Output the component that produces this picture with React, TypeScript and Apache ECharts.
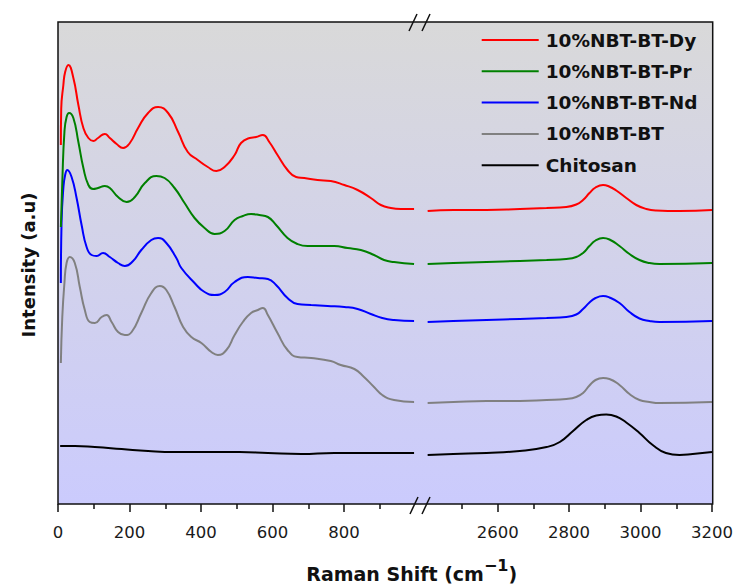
import React, { useEffect, useRef } from "react";
import * as echarts from "echarts";

// Raman shift (cm^-1), intensity (a.u.) — low range 0–1000 and high range 2370–3200
const dyLow: [number, number][] = [[8,359],[9,395],[15,419],[20,432],[29,439],[43,426],[57,399],[71,376],[85,366],[99,363],[112,366],[131,370],[145,366],[164,360],[182,356],[201,361],[224,376],[252,391],[280,397],[308,391],[336,372],[363,352],[391,344],[419,337],[443,333],[466,337],[494,349],[512,361],[536,366],[554,367],[573,369],[591,362],[614,349],[642,334],[666,327],[689,326],[726,324],[763,323],[801,319],[838,314],[875,306],[903,299],[931,296],[959,295],[996,295]];
const dyHigh: [number, number][] = [[2404,293],[2476,294],[2569,294],[2662,295],[2737,296],[2792,297],[2820,299.5],[2839,304],[2857,311],[2874,316.5],[2895,319],[2912,317.5],[2932,313.5],[2960,306],[2988,299],[3016,295],[3044,293.5],[3109,293],[3200,294]];

const prLow: [number, number][] = [[8,277],[12,322],[18,372],[24,387],[31,391],[43,386],[57,362],[71,336],[85,319],[98,315],[112,316],[131,318],[145,316],[168,307],[192,302],[215,307],[243,321],[275,328],[298,326],[326,316],[354,301],[382,286],[410,276],[438,270],[466,273],[494,284],[517,288],[540,290],[563,289],[587,287],[610,279],[642,266],[670,260],[698,258],[736,258],[773,258],[810,256],[847,254],[884,249],[912,244],[940,242],[996,240]];
const prHigh: [number, number][] = [[2404,240],[2476,241],[2569,242],[2662,243],[2737,244],[2792,245],[2820,247],[2839,251],[2857,258],[2874,263.5],[2895,266],[2913,264.5],[2941,258],[2969,250],[2997,244],[3025,241],[3053,240],[3200,241]];

const ndLow: [number, number][] = [[8,221],[10,282],[15,316],[20,329],[26,334],[38,327],[52,306],[66,279],[80,257],[94,249],[108,248],[126,251],[145,247],[168,241],[187,238],[210,243],[233,254],[261,264],[280,266],[303,261],[331,246],[345,236],[382,221],[410,212],[438,209],[466,212],[494,222],[531,227],[559,226],[587,225],[610,219],[642,206],[670,200],[708,199],[754,198],[801,197],[838,195],[875,190],[907,186],[940,184],[996,183]];
const ndHigh: [number, number][] = [[2404,182],[2476,183],[2569,184],[2662,185],[2737,186],[2792,187],[2820,189.5],[2839,195],[2857,201.5],[2874,206],[2895,208],[2913,206.5],[2941,201],[2969,192],[2997,185.5],[3025,183],[3053,182],[3200,183]];

const btLow: [number, number][] = [[8,141],[12,187],[18,221],[24,241],[33,247],[47,241],[61,217],[75,194],[89,182],[103,181],[122,187],[136,189],[150,182],[168,172],[187,169],[206,172],[233,191],[261,211],[285,218],[303,214],[326,197],[350,177],[373,167],[401,161],[429,152],[447,149],[471,154],[494,169],[517,182],[540,191],[559,194],[573,196],[587,189],[614,171],[642,154],[670,147],[708,146],[763,143],[791,139],[829,135],[856,127],[884,117],[907,109],[940,104],[996,102]];
const btHigh: [number, number][] = [[2404,101],[2476,102],[2569,103],[2662,103],[2737,104],[2792,105],[2820,107],[2839,111],[2857,118.5],[2874,124],[2895,126],[2913,125],[2941,119],[2969,110],[2997,104],[3025,102],[3053,101],[3200,102]];

const chLow: [number, number][] = [[6,58],[47,58],[103,57],[178,55],[252,53],[326,52],[410,52],[508,52],[587,51],[680,50],[773,51],[996,51]];
const chHigh: [number, number][] = [[2404,49],[2476,50],[2569,51],[2662,53],[2737,57],[2774,62],[2811,73],[2848,84],[2876,88.5],[2904,89.5],[2932,87.5],[2960,81.5],[2997,71],[3034,59],[3071,51],[3109,49],[3146,50],[3200,52]];

const seriesNames = ["10%NBT-BT-Dy", "10%NBT-BT-Pr", "10%NBT-BT-Nd", "10%NBT-BT", "Chitosan"];
const seriesColors = ["#ff0000", "#008000", "#0000ff", "#808080", "#000000"];
const lowData = [dyLow, prLow, ndLow, btLow, chLow];
const highData = [dyHigh, prHigh, ndHigh, btHigh, chHigh];

const lowMajorTicks = [0, 200, 400, 600, 800];
const lowMinorTicks = [100, 300, 500, 700, 900];
const highMajorTicks = [2600, 2800, 3000, 3200];
const highMinorTicks = [2500, 2700, 2900, 3100];

const FONT = "DejaVu Sans";

export default function App() {
  const ref = useRef<HTMLDivElement>(null);
  useEffect(() => {
    if (!ref.current) return;
    const chart = echarts.init(ref.current, undefined, { renderer: "svg" });
    const bg = new echarts.graphic.LinearGradient(0, 0, 0, 1, [
      { offset: 0, color: "#d9d9d9" },
      { offset: 1, color: "#cbcbfd" },
    ]);
    const gridTop = 22, gridBottom = 81;
    const mkX = (gridIndex: number, min: number, max: number, major: boolean, ticks: number[]) => ({
      type: "value", gridIndex, min, max, position: "bottom",
      axisLine: { show: false },
      splitLine: { show: false },
      axisTick: {
        show: true, inside: false, length: major ? 8 : 5, customValues: ticks,
        lineStyle: { color: "#111", width: 1.5 },
      },
      axisLabel: major
        ? { show: true, customValues: ticks, margin: 20, color: "#1a1a1a", fontFamily: FONT, fontSize: 16.5,
            formatter: (v: number) => String(v) }
        : { show: false },
    });
    const series: any[] = [];
    seriesNames.forEach((name, i) => {
      const common = {
        name, type: "line", symbol: "none", smooth: 0.5,
        lineStyle: { color: seriesColors[i], width: 2 },
        itemStyle: { color: seriesColors[i] },
        z: 10 - i,
      };
      series.push({ ...common, xAxisIndex: 0, yAxisIndex: 0, data: lowData[i] });
      series.push({ ...common, xAxisIndex: 2, yAxisIndex: 1, data: highData[i] });
    });
    const slash = (x1: number, y1: number, x2: number, y2: number) => ({
      type: "line", z: 120,
      shape: { x1, y1, x2, y2 },
      style: { stroke: "#111", lineWidth: 1.5 },
    });
    chart.setOption({
      animation: false,
      grid: [
        { left: 58, top: gridTop, width: 357.5, bottom: gridBottom },
        { left: 415.5, top: gridTop, right: 23.3, bottom: gridBottom },
      ],
      xAxis: [
        mkX(0, 0, 1000, true, lowMajorTicks),
        mkX(0, 0, 1000, false, lowMinorTicks),
        mkX(1, 2370, 3200, true, highMajorTicks),
        mkX(1, 2370, 3200, false, highMinorTicks),
      ],
      yAxis: [0, 1].map((g) => ({
        type: "value", gridIndex: g, min: 0, max: 482,
        axisLine: { show: false }, axisTick: { show: false }, axisLabel: { show: false }, splitLine: { show: false },
      })),
      legend: {
        orient: "vertical", left: 481.7, top: 30, padding: 0,
        itemWidth: 57, itemHeight: 2, itemGap: 11.3,
        icon: "rect",
        data: seriesNames,
        textStyle: { fontFamily: FONT, fontWeight: "bold", fontSize: 18.5, color: "#111", lineHeight: 20, padding: [0, 0, 0, 2] },
      },
      graphic: [
        {
          type: "rect", z: 0, silent: true,
          shape: { x: 58, y: 22, width: 654.7, height: 482 },
          style: { fill: bg },
        },
        {
          type: "rect", z: 110, silent: true,
          shape: { x: 58, y: 22, width: 654.7, height: 482 },
          style: { fill: "none", stroke: "#111", lineWidth: 1.5 },
        },
        slash(409, 31, 417, 14),
        slash(422, 31, 430, 14),
        slash(410, 514, 418, 497),
        slash(422, 514, 430, 497),
        {
          type: "text", x: 28.5, y: 265, rotation: Math.PI / 2, z: 120,
          style: {
            text: "Intensity (a.u)", fill: "#111",
            font: `bold 18px "${FONT}"`, fontFamily: FONT, fontWeight: "bold", fontSize: 18,
            align: "center", verticalAlign: "middle", textAlign: "center", textVerticalAlign: "middle",
          },
        },
        {
          type: "text", x: 411.7, y: 570.5, z: 120,
          style: {
            text: "{a|Raman Shift (cm}{b|\u22121}{a|)}",
            fill: "#111",
            align: "center", verticalAlign: "middle", textAlign: "center", textVerticalAlign: "middle",
            rich: {
              a: { fontFamily: FONT, fontWeight: "bold", fontSize: 19, lineHeight: 26, verticalAlign: "bottom", fill: "#111", color: "#111" },
              b: { fontFamily: FONT, fontWeight: "bold", fontSize: 16, lineHeight: 16, verticalAlign: "top", fill: "#111", color: "#111" },
            },
          },
        },
      ],
      series,
    });
    return () => chart.dispose();
  }, []);
  return <div ref={ref} style={{ width: 736, height: 585, position: "absolute", left: 0, top: 0 }} />;
}
